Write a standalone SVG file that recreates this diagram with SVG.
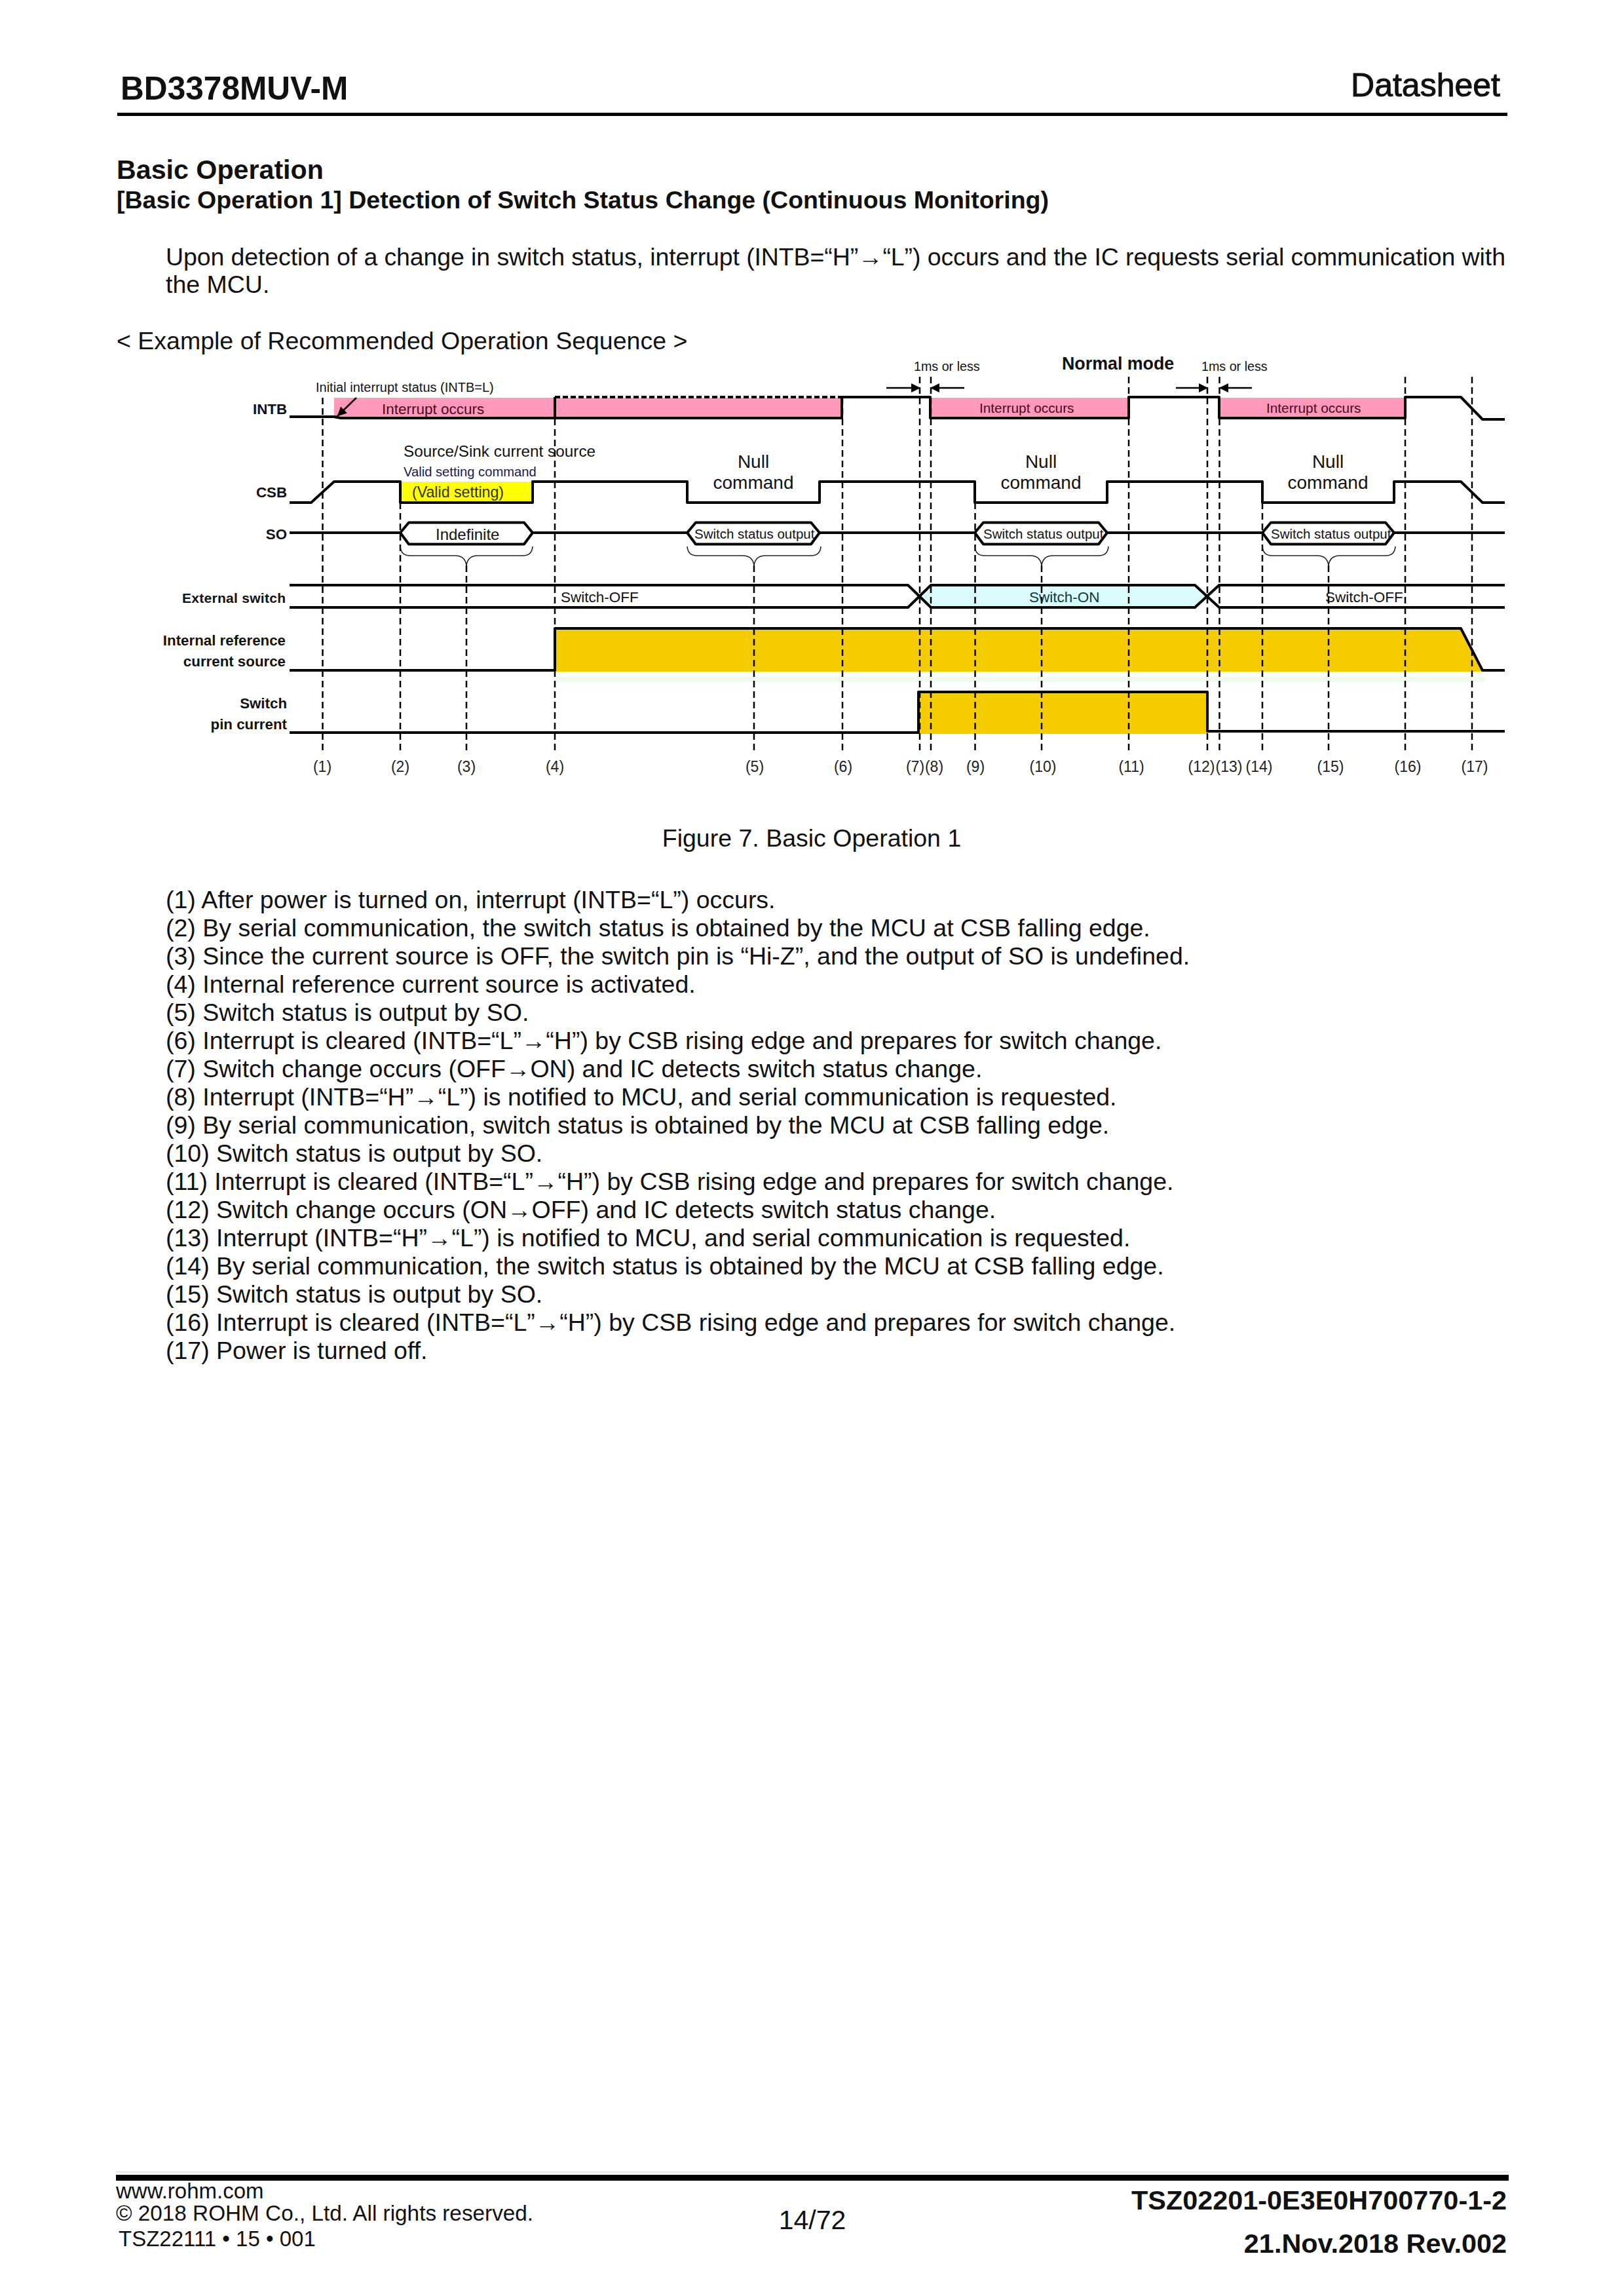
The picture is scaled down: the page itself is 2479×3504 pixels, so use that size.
<svg xmlns="http://www.w3.org/2000/svg" width="2479" height="3504" viewBox="0 0 2479 3504">
<defs>
<marker id="ah" markerWidth="14" markerHeight="14" refX="13" refY="7" orient="auto" markerUnits="userSpaceOnUse"><path d="M0,0 L14,7 L0,14 Z" fill="#000"/></marker>
<marker id="ah2" markerWidth="24" markerHeight="16" refX="22" refY="7" orient="auto" markerUnits="userSpaceOnUse"><path d="M4,0 L18,7 L4,14 Z" fill="#000"/></marker>
</defs>
<style>
text{font-family:"Liberation Sans",Arial,sans-serif;fill:#111}
.b{font-weight:bold}
.body{font-size:37.5px}
.sig{fill:none;stroke:#000;stroke-width:4;stroke-linejoin:round}
.dash{fill:none;stroke:#000;stroke-width:2.5;stroke-dasharray:10 6}
.brace{fill:none;stroke:#222;stroke-width:1.6}
.lab{font-size:22.3px;font-weight:bold;text-anchor:end}
.num{font-size:23px;text-anchor:middle;fill:#222}
.null{font-size:28px;text-anchor:middle}
.pk{fill:#ff99bb}
.au{fill:#f5cc00}
.occ{font-size:22.5px;fill:#4a0a24}
.occ2{font-size:20.8px;fill:#4a0a24}
.sso{font-size:20.5px}
.ms{font-size:19.7px}
.sw{font-size:22.5px}
</style>
<rect width="2479" height="3504" fill="#fff"/>

<g id="header">
<text class="b" x="184" y="152" font-size="49.6">BD3378MUV-M</text>
<text x="2290" y="147" font-size="50" text-anchor="end" stroke="#111" stroke-width="1">Datasheet</text>
<rect x="179" y="172" width="2122" height="5" fill="#000"/>
</g>

<g id="intro">
<text class="b" x="178" y="273" font-size="41.2">Basic Operation</text>
<text class="b" x="178" y="318" font-size="37.5">[Basic Operation 1] Detection of Switch Status Change (Continuous Monitoring)</text>
<text class="body" x="253" y="405" textLength="2045" lengthAdjust="spacing">Upon detection of a change in switch status, interrupt (INTB=“H”→“L”) occurs and the IC requests serial communication with</text>
<text class="body" x="253" y="447">the MCU.</text>
<text class="body" x="178" y="533">&lt; Example of Recommended Operation Sequence &gt;</text>
</g>

<g id="fills">
<rect class="pk" x="510" y="607" width="775" height="31"/>
<rect class="pk" x="1421" y="607" width="302" height="31"/>
<rect class="pk" x="1861" y="607" width="284" height="31"/>
<rect x="611" y="735" width="202" height="32" fill="#ffff00"/>
<path d="M1421,893 H1824 L1842,910 1824,927 H1421 L1404,910 Z" fill="#d9fbfb"/>
<path class="au" d="M847,959 H2230 L2265,1025 H847 Z"/>
<rect class="au" x="1403" y="1056" width="440" height="64"/>
<rect x="847" y="1033" width="1420" height="8" fill="#ecfbec"/>
</g>

<g id="connectors">
<path class="dash" d="M492.5,607V1150"/>
<path class="dash" d="M611,767V1150"/>
<path class="dash" d="M712,863V1150"/>
<path class="dash" d="M847,607V1150"/>
<path class="dash" d="M1151,863V1150"/>
<path class="dash" d="M1286,607V1150"/>
<path class="dash" d="M1404,575V1150"/>
<path class="dash" d="M1421,575V1150"/>
<path class="dash" d="M1488.5,767V1150"/>
<path class="dash" d="M1590,863V1150"/>
<path class="dash" d="M1723,575V1150"/>
<path class="dash" d="M1843,575V1150"/>
<path class="dash" d="M1861.5,575V1150"/>
<path class="dash" d="M1927,767V1150"/>
<path class="dash" d="M2028,863V1150"/>
<path class="dash" d="M2145,575V1150"/>
<path class="dash" d="M2247,575V1150"/>
<path d="M1353,592H1404" fill="none" stroke="#000" stroke-width="2.5" marker-end="url(#ah)"/>
<path d="M1472,592H1421" fill="none" stroke="#000" stroke-width="2.5" marker-end="url(#ah)"/>
<path d="M1795,592H1843" fill="none" stroke="#000" stroke-width="2.5" marker-end="url(#ah)"/>
<path d="M1911,592H1862" fill="none" stroke="#000" stroke-width="2.5" marker-end="url(#ah)"/>
<path d="M544,607L512,638" fill="none" stroke="#000" stroke-width="2.5" marker-end="url(#ah2)"/>
</g>

<g id="INTB">
<text class="lab" x="438" y="632">INTB</text>
<path class="sig" d="M442,636H510L520,638H847V606"/>
<path d="M847,606H1285" fill="none" stroke="#000" stroke-width="4" stroke-dasharray="8 4"/>
<path class="sig" d="M847,638H1285V606H1420V638H1723V606H1861V638H2145V606H2230L2263,640H2297"/>
<text class="occ" x="583" y="632">Interrupt occurs</text>
<text class="occ2" x="1495" y="630">Interrupt occurs</text>
<text class="occ2" x="1933" y="630">Interrupt occurs</text>
<text x="482" y="598" font-size="20">Initial interrupt status (INTB=L)</text>
</g>

<g id="CSB">
<text class="lab" x="438" y="759">CSB</text>
<path class="sig" d="M442,767H475L510,735H611V767H813V735H1049V767H1251V735H1488V767H1690V735H1927V767H2128V735H2230L2263,767H2297"/>
<text x="616" y="697" font-size="24.3">Source/Sink current source</text>
<text x="616" y="727" font-size="20.2" style="fill:#1a1a50">Valid setting command</text>
<text x="629" y="759" font-size="23.2" style="fill:#333000">(Valid setting)</text>
<text class="null" x="1150" y="714">Null</text>
<text class="null" x="1150" y="746">command</text>
<text class="null" x="1589" y="714">Null</text>
<text class="null" x="1589" y="746">command</text>
<text class="null" x="2027" y="714">Null</text>
<text class="null" x="2027" y="746">command</text>
</g>

<g id="SO">
<text class="lab" x="438" y="823">SO</text>
<path class="sig" d="M442,813H611L624,797.5H800L813,813H1049L1062,797.5H1238L1251,813H1488L1501,797.5H1677L1690,813H1927L1940,797.5H2115L2128,813H2297"/>
<path class="sig" d="M611,813L624,830.5H800L813,813"/>
<path class="sig" d="M1049,813L1062,830.5H1238L1251,813"/>
<path class="sig" d="M1488,813L1501,830.5H1677L1690,813"/>
<path class="sig" d="M1927,813L1940,830.5H2115L2128,813"/>
<text x="665" y="824" font-size="24">Indefinite</text>
<text class="sso" x="1060" y="822">Switch status output</text>
<text class="sso" x="1501" y="822">Switch status output</text>
<text class="sso" x="1940" y="822">Switch status output</text>
<path class="brace" d="M611,834Q612,848 626,848H695Q710,848 712,863Q714,848 729,848H798Q812,848 813,834"/>
<path class="brace" d="M1049,834Q1050,848 1064,848H1134Q1149,848 1151,863Q1153,848 1168,848H1238Q1252,848 1253,834"/>
<path class="brace" d="M1488,834Q1489,848 1503,848H1573Q1588,848 1590,863Q1592,848 1607,848H1677Q1691,848 1692,834"/>
<path class="brace" d="M1927,834Q1928,848 1942,848H2011Q2026,848 2028,863Q2030,848 2045,848H2115Q2129,848 2130,834"/>
</g>

<g id="external-switch">
<text class="lab" x="436" y="920" style="font-size:21px" textLength="158" lengthAdjust="spacing">External switch</text>
<path class="sig" d="M442,893H1386L1421,927H1824L1861,893H2297"/>
<path class="sig" d="M442,927H1386L1421,893H1824L1861,927H2297"/>
<text class="sw" x="856" y="919">Switch-OFF</text>
<text class="sw" x="1571" y="919" style="fill:#0c3a3a">Switch-ON</text>
<text class="sw" x="2023" y="919">Switch-OFF</text>
</g>

<g id="internal-reference">
<text class="lab" x="436" y="985">Internal reference</text>
<text class="lab" x="436" y="1017">current source</text>
<path class="sig" d="M442,1023H847V959H2230L2263,1023H2297"/>
</g>

<g id="switch-pin-current">
<text class="lab" x="438" y="1081">Switch</text>
<text class="lab" x="438" y="1113">pin current</text>
<path class="sig" d="M442,1118H1402V1056H1843V1116H2297"/>
</g>

<g id="numbers">
<text class="num" x="492" y="1178">(1)</text>
<text class="num" x="611" y="1178">(2)</text>
<text class="num" x="712" y="1178">(3)</text>
<text class="num" x="847" y="1178">(4)</text>
<text class="num" x="1152" y="1178">(5)</text>
<text class="num" x="1287" y="1178">(6)</text>
<text class="num" x="1397" y="1178">(7)</text>
<text class="num" x="1426" y="1178">(8)</text>
<text class="num" x="1489" y="1178">(9)</text>
<text class="num" x="1592" y="1178">(10)</text>
<text class="num" x="1727" y="1178">(11)</text>
<text class="num" x="1834" y="1178">(12)</text>
<text class="num" x="1876" y="1178">(13)</text>
<text class="num" x="1922" y="1178">(14)</text>
<text class="num" x="2031" y="1178">(15)</text>
<text class="num" x="2149" y="1178">(16)</text>
<text class="num" x="2251" y="1178">(17)</text>
</g>

<g id="timing-notes">
<text class="ms" x="1395" y="566">1ms or less</text>
<text class="ms" x="1834" y="566">1ms or less</text>
<text class="b" x="1621" y="564" font-size="26.8">Normal mode</text>
</g>

<g id="caption">
<text class="body" x="1239" y="1292" text-anchor="middle">Figure 7. Basic Operation 1</text>
</g>

<g id="steps">
<text class="body" x="253" y="1386">(1) After power is turned on, interrupt (INTB=“L”) occurs.</text>
<text class="body" x="253" y="1429">(2) By serial communication, the switch status is obtained by the MCU at CSB falling edge.</text>
<text class="body" x="253" y="1472">(3) Since the current source is OFF, the switch pin is “Hi-Z”, and the output of SO is undefined.</text>
<text class="body" x="253" y="1515">(4) Internal reference current source is activated.</text>
<text class="body" x="253" y="1558">(5) Switch status is output by SO.</text>
<text class="body" x="253" y="1601">(6) Interrupt is cleared (INTB=“L”→“H”) by CSB rising edge and prepares for switch change.</text>
<text class="body" x="253" y="1644">(7) Switch change occurs (OFF→ON) and IC detects switch status change.</text>
<text class="body" x="253" y="1687">(8) Interrupt (INTB=“H”→“L”) is notified to MCU, and serial communication is requested.</text>
<text class="body" x="253" y="1730">(9) By serial communication, switch status is obtained by the MCU at CSB falling edge.</text>
<text class="body" x="253" y="1773">(10) Switch status is output by SO.</text>
<text class="body" x="253" y="1816">(11) Interrupt is cleared (INTB=“L”→“H”) by CSB rising edge and prepares for switch change.</text>
<text class="body" x="253" y="1859">(12) Switch change occurs (ON→OFF) and IC detects switch status change.</text>
<text class="body" x="253" y="1902">(13) Interrupt (INTB=“H”→“L”) is notified to MCU, and serial communication is requested.</text>
<text class="body" x="253" y="1945">(14) By serial communication, the switch status is obtained by the MCU at CSB falling edge.</text>
<text class="body" x="253" y="1988">(15) Switch status is output by SO.</text>
<text class="body" x="253" y="2031">(16) Interrupt is cleared (INTB=“L”→“H”) by CSB rising edge and prepares for switch change.</text>
<text class="body" x="253" y="2074">(17) Power is turned off.</text>
</g>

<g id="footer">
<rect x="177" y="3314" width="2126" height="1.5" fill="#ddd"/>
<rect x="177" y="3319" width="2126" height="9" fill="#000"/>
<text x="177" y="3355" font-size="33">www.rohm.com</text>
<text x="177" y="3389" font-size="33.3">© 2018 ROHM Co., Ltd. All rights reserved.</text>
<text x="181" y="3428" font-size="33">TSZ22111 • 15 • 001</text>
<text x="1240" y="3402" font-size="41" text-anchor="middle">14/72</text>
<text class="b" x="2300" y="3372" font-size="41.4" text-anchor="end">TSZ02201-0E3E0H700770-1-2</text>
<text class="b" x="2300" y="3438" font-size="41.4" text-anchor="end">21.Nov.2018 Rev.002</text>
</g>
</svg>
